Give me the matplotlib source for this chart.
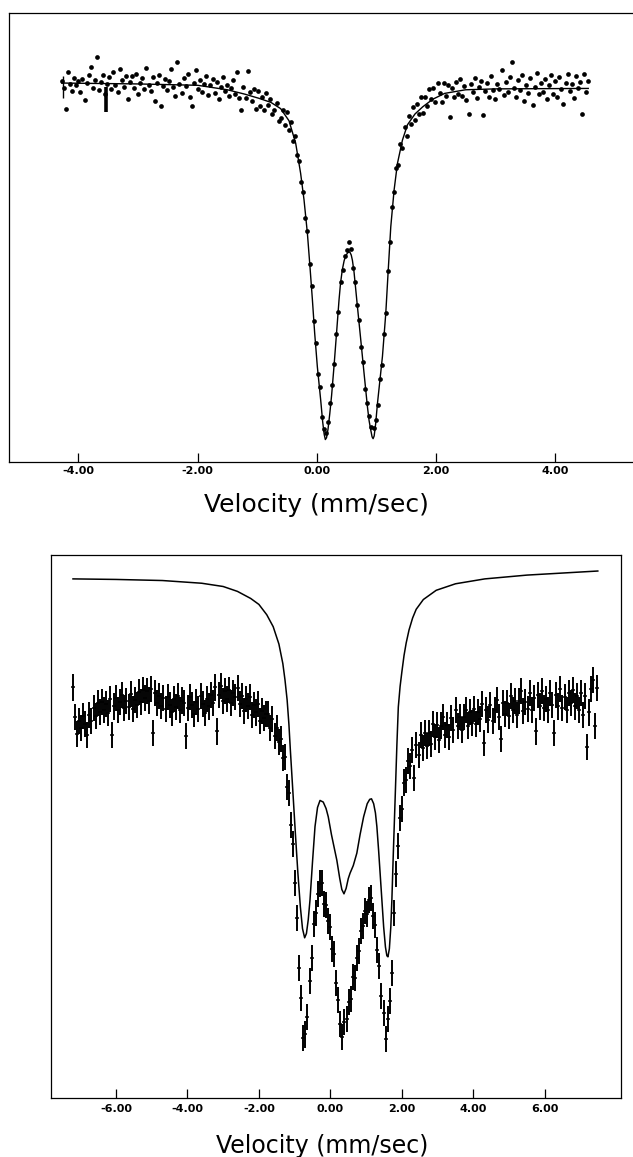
import matplotlib
matplotlib.use("Agg")
import matplotlib.pyplot as plt
import numpy as np

# ---------------- top spectrum ----------------
top_v_start, top_v_stop, top_n = -4.28, 4.56, 256
top_counts = [
    84.9, 83.2, 78.6, 86.9, 84.1, 82.7, 85.6, 83.9, 84.8, 82.3,
    85.2, 80.7, 84.5, 86.1, 88.0, 83.4, 85.0, 90.1, 82.8, 84.6,
    86.3, 81.9, 84.2, 85.7, 83.0, 86.8, 84.0, 82.4, 87.6, 85.1,
    83.6, 86.0, 80.9, 84.7, 85.9, 83.3, 86.5, 82.0, 84.4, 85.5,
    83.1, 87.7, 84.0, 82.6, 85.8, 80.4, 84.3, 86.2, 79.2, 83.8,
    85.4, 82.9, 84.9, 87.6, 83.5, 81.6, 89.0, 84.1, 82.2, 85.6,
    83.7, 86.4, 81.3, 79.3, 84.5, 87.2, 83.0, 85.1, 82.5, 84.2,
    86.0, 81.8, 83.9, 85.4, 82.1, 84.6, 80.8, 83.5, 85.8, 82.7,
    84.0, 81.5, 83.3, 85.0, 82.0, 86.8, 81.1, 78.5, 83.6, 81.0,
    87.1, 82.4, 80.3, 83.0, 78.6,
    82.6, 79.3, 81.2, 78.4, 82.2, 79.4, 80.9, 77.4, 78.4, 79.9,
    75.9, 76.7, 78.5, 75.1, 77.9, 74.0, 75.8, 71.5, 72.5, 68.4,
    67.1, 62.4, 60.2, 54.3, 51.4, 44.0, 39.3, 31.5, 26.6, 19.5,
    16.7, 10.0, 7.3, 6.4, 9.0, 13.2, 17.2, 21.8, 28.4, 33.4,
    40.1, 42.8, 45.8, 47.3, 49.1, 47.4, 43.2, 40.0, 34.9, 31.6,
    25.7, 22.2, 16.3, 13.2, 10.2, 7.8, 7.6, 9.4, 12.8, 18.5,
    21.6, 28.4, 33.2, 42.5, 48.9, 56.7, 60.1, 65.4, 66.2, 70.8,
    69.9, 74.6, 72.5, 77.1, 75.2, 79.0, 76.1, 79.7, 77.5, 81.2,
    77.7, 81.4, 79.2, 83.0, 80.9, 83.2, 80.1, 84.3, 82.1, 80.1,
    84.4, 81.6, 83.9,
    76.9, 83.4, 81.2, 84.7, 82.0, 85.3, 81.5, 83.8, 80.6, 77.4,
    84.1, 82.3, 85.6, 81.0, 83.5, 84.9, 77.3, 82.7, 84.4, 81.4,
    86.0, 82.9, 80.8, 84.2, 83.1, 87.4, 81.7, 84.6, 82.5, 85.8,
    89.0, 83.3, 81.2, 85.1, 82.8, 86.3, 80.5, 84.0, 82.2, 85.5,
    79.6, 83.6, 86.7, 81.9, 84.3, 82.4, 85.2, 80.9, 83.9, 86.1,
    82.0, 84.8, 81.3, 85.7, 83.0, 79.8, 84.5, 86.4, 82.6, 84.1,
    81.1, 85.9, 83.2, 84.7, 77.4, 86.5, 82.3, 84.9,
]
top_fit_v = [-4.28, -3.0, -2.0, -1.5, -1.2, -0.97, -0.77, -0.605, -0.465, -0.353,
             -0.27, -0.213, -0.156, -0.113, -0.072, -0.034, 0.011, 0.067, 0.10, 0.125,
             0.145, 0.165, 0.19, 0.22, 0.25, 0.29, 0.336, 0.375, 0.40, 0.43,
             0.46, 0.487, 0.52, 0.555, 0.58, 0.60, 0.627, 0.684, 0.74, 0.795,
             0.852, 0.88, 0.908, 0.93, 0.947, 0.965, 0.99, 1.02, 1.06, 1.104,
             1.16, 1.198, 1.244, 1.30, 1.356, 1.44, 1.524, 1.65, 1.78, 1.95,
             2.15, 2.5, 3.0, 4.56]
top_fit_y = [84.4, 84.2, 83.9, 82.9, 81.9, 81.0, 80.1, 78.7, 76.0, 71.0,
             64.3, 58.4, 50.9, 43.5, 36.1, 28.7, 21.2, 13.8, 9.0, 6.2,
             5.0, 5.4, 7.3, 10.8, 14.8, 21.2, 29.2, 36.1, 39.8, 42.8,
             44.8, 45.9, 46.6, 46.8, 46.1, 44.9, 42.3, 34.6, 27.2, 19.8,
             12.3, 9.2, 7.1, 5.6, 5.2, 5.8, 8.5, 13.0, 18.0, 23.5,
             33.1, 42.0, 52.4, 60.6, 66.5, 71.7, 75.1, 77.5, 79.1, 80.8,
             82.1, 82.9, 83.1, 83.2]
top_mark_v = [-4.26, -3.53]
top_mark_lo = [81.0, 78.0]
top_mark_hi = [86.0, 83.5]
top_ticks = [-4, -2, 0, 2, 4]
top_tick_labels = ["-4.00", "-2.00", "0.00", "2.00", "4.00"]

# ---------------- bottom spectrum ----------------
bot_v_start, bot_v_stop, bot_n = -7.2, 7.47, 256
bot_counts = [
    75.6, 70.2, 67.0, 69.4, 68.1, 70.3, 68.8, 66.9, 70.6, 69.5,
    71.9, 70.4, 72.8, 71.1, 73.0, 71.5, 72.6, 70.9, 73.4, 66.8,
    72.1, 73.6, 71.4, 72.9, 74.2, 71.8, 73.1, 72.0, 74.4, 71.6,
    73.3, 72.4, 74.8, 73.0, 75.1, 73.6, 74.9, 73.2, 75.4, 67.3,
    74.5, 72.8, 74.0, 72.2, 73.6, 71.7, 73.9, 72.4, 71.0, 73.5,
    72.0, 74.1, 71.5, 73.2, 72.7, 66.6, 71.9, 73.8, 72.3, 70.8,
    73.0, 71.6, 74.0, 72.5, 70.9, 73.4, 72.1, 74.3, 72.8, 75.6,
    67.5, 74.2, 75.8, 73.1, 74.9, 73.5, 75.2, 72.8, 74.6, 73.9,
    75.5, 72.6, 74.1, 71.3, 73.5, 72.2, 73.8, 70.6, 72.4, 71.0,
    72.6, 69.4, 71.3, 69.9, 70.8,
    70.7, 68.1, 69.8, 66.6, 68.1, 65.6, 66.2, 62.7, 62.8, 57.2,
    56.2, 50.3, 46.8, 39.6, 33.2, 23.9, 18.4, 11.0, 11.7, 15.0,
    21.5, 25.7, 32.1, 34.1, 37.5, 39.5, 39.6, 35.8, 35.6, 32.6,
    31.5, 27.5, 26.5, 21.2, 18.1, 13.7, 11.2, 14.0, 14.5, 17.6,
    18.2, 22.3, 22.1, 25.8, 27.1, 30.7, 31.6, 34.5, 33.9, 36.4,
    36.8, 33.5, 31.8, 27.3, 24.3, 18.8, 15.7, 10.8, 14.6, 17.9,
    23.0, 34.0, 41.3, 46.4, 51.6, 53.2,
    58.1, 58.5, 62.1, 61.2, 64.1, 58.9, 65.0, 63.1, 66.8, 64.4,
    67.2, 64.9, 67.2, 65.2, 68.9, 66.5, 68.7, 65.9, 68.6, 70.2,
    66.9, 68.7, 66.4, 69.9, 67.8, 71.4, 68.5, 70.2, 67.7, 70.1,
    71.5, 68.6, 71.1, 69.1, 71.6, 68.8, 71.1, 69.8, 72.5, 65.4,
    71.5, 69.7, 72.4, 69.5, 71.4, 73.3, 70.1, 66.2, 72.8, 70.8,
    72.8, 70.3, 74.0, 71.4, 73.1, 70.6, 73.1, 74.9, 71.3, 73.0,
    71.7, 74.5, 71.4, 73.6, 67.5, 74.2, 72.1, 75.0, 71.9, 73.5,
    71.4, 74.6, 72.4, 67.2, 74.2, 72.1, 75.4, 71.9, 73.9, 71.5,
    74.6, 72.7, 75.2, 72.1, 74.1, 71.5, 74.6, 70.5, 74.0, 64.6,
    71.0, 75.4, 77.0, 68.5, 75.5,
]
bot_err = 2.4
bot_fit_v = [-7.2, -6.0, -4.7, -3.6, -3.0, -2.6, -2.23, -2.0, -1.78, -1.6,
             -1.44, -1.33, -1.27, -1.21, -1.16, -1.12, -1.05, -0.98, -0.91, -0.84,
             -0.78, -0.72, -0.67, -0.62, -0.57, -0.50, -0.43, -0.36, -0.29, -0.20,
             -0.12, -0.06, 0.03, 0.10, 0.18, 0.26, 0.32, 0.38, 0.44, 0.50,
             0.55, 0.64, 0.74, 0.83, 0.93, 1.03, 1.10, 1.15, 1.21, 1.26,
             1.30, 1.35, 1.40, 1.44, 1.49, 1.54, 1.58, 1.61, 1.65, 1.69,
             1.72, 1.76, 1.81, 1.86, 1.90, 1.95, 2.0, 2.06, 2.12, 2.20,
             2.30, 2.40, 2.60, 2.96, 3.5, 4.32, 5.5, 7.48]
bot_fit_y = [95.6, 95.5, 95.3, 94.8, 94.2, 93.3, 92.0, 90.9, 89.0, 86.8,
             83.6, 80.0, 77.0, 73.3, 68.8, 64.1, 56.5, 48.8, 41.5, 35.2,
             31.2, 29.5, 30.3, 32.8, 36.5, 43.5, 50.0, 53.5, 54.8, 54.5,
             53.3, 51.8, 48.5, 46.3, 43.8, 40.5, 38.4, 37.6, 38.6, 40.4,
             41.4, 42.8, 45.1, 48.5, 51.8, 54.2, 55.0, 55.1, 54.2, 52.5,
             50.0, 45.5, 40.5, 36.5, 31.5, 27.8, 26.2, 26.0, 27.5, 31.5,
             36.5, 45.0, 54.9, 65.0, 72.0, 75.8, 78.5, 81.5, 83.8, 86.2,
             88.4, 90.0, 91.8, 93.5, 94.7, 95.6, 96.3, 97.05]
bot_ticks = [-6, -4, -2, 0, 2, 4, 6]
bot_tick_labels = ["-6.00", "-4.00", "-2.00", "0.00", "2.00", "4.00", "6.00"]

axis_label = "Velocity (mm/sec)"

# ---------------- figure ----------------
W, H = 633, 1157
fig = plt.figure(figsize=(W / 100, H / 100), dpi=100)
fig.patch.set_facecolor("white")

top_v = np.linspace(top_v_start, top_v_stop, top_n)
bot_v = np.linspace(bot_v_start, bot_v_stop, bot_n)

# top panel
ax1 = fig.add_axes([9 / W, 1 - 462 / H, 636 / W, 449 / H])
ax1.plot(top_v, top_counts, "o", ms=3.4, color="black", mec="none")
ax1.plot(top_fit_v, top_fit_y, "-", color="black", lw=1.0)
ax1.vlines(top_mark_v, top_mark_lo, top_mark_hi, colors="black", lw=[1.0, 2.6])
ax1.set_xlim(-5.167, 5.513)
ax1.set_ylim(0, 100)
ax1.spines["right"].set_visible(False)
ax1.set_yticks([])
ax1.set_xticks(top_ticks)
ax1.set_xticklabels(top_tick_labels)

# bottom panel
ax2 = fig.add_axes([50.5 / W, 1 - 1098 / H, 570 / W, 543 / H])
ax2.errorbar(bot_v, bot_counts, yerr=bot_err, fmt="_", ms=3.5, mew=1.1,
             color="black", ecolor="black", elinewidth=1.4, capsize=0)
ax2.plot(bot_fit_v, bot_fit_y, "-", color="black", lw=1.1)
ax2.set_xlim(-7.829, 8.115)
ax2.set_ylim(0, 100)
ax2.set_yticks([])
ax2.set_xticks(bot_ticks)
ax2.set_xticklabels(bot_tick_labels)

for ax, pad in ((ax1, 3.0), (ax2, 4.0)):
    for s in ax.spines.values():
        s.set_linewidth(0.9)
    ax.tick_params(axis="x", direction="in", length=6.5, width=0.9, pad=pad,
                   labelsize=8, colors="black")
    for lbl in ax.get_xticklabels():
        lbl.set_fontweight("bold")

fig.text(316 / W, 1 - 511.5 / H, axis_label, ha="center", va="baseline",
         fontsize=18, family="DejaVu Sans")
fig.text(322.5 / W, 1 - 1153.5 / H, axis_label, ha="center", va="baseline",
         fontsize=17, family="DejaVu Sans")

fig.savefig("out.png", dpi=100, facecolor="white")
